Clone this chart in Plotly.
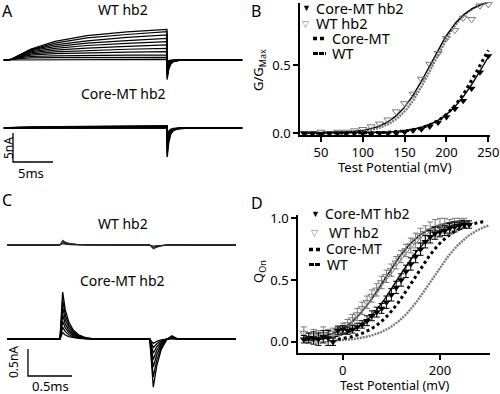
import numpy as np
import plotly.graph_objects as go

# ---------------- DATA ----------------
A_T_ON = [0, 0.5, 1.5, 3, 6, 10, 15, 20]
A_WT_ON = [
    [0, 0.10, 0.80, 1.90, 3.20, 4.20, 4.85, 5.29],
    [0, 0.10, 0.80, 1.80, 2.90, 3.80, 4.40, 4.88],
    [0, 0.10, 0.75, 1.70, 2.60, 3.30, 3.90, 4.31],
    [0, 0.10, 0.70, 1.60, 2.30, 2.90, 3.35, 3.74],
    [0, 0.10, 0.65, 1.40, 2.00, 2.50, 2.85, 3.16],
    [0, 0.10, 0.60, 1.25, 1.70, 2.05, 2.35, 2.59],
    [0, 0.10, 0.55, 1.05, 1.40, 1.65, 1.85, 2.01],
    [0, 0.10, 0.50, 0.85, 1.10, 1.25, 1.35, 1.44],
    [0, 0.10, 0.40, 0.60, 0.72, 0.80, 0.84, 0.86],
    [0, 0.05, 0.25, 0.35, 0.40, 0.43, 0.45, 0.46],
    [0, 0.03, 0.08, 0.10, 0.11, 0.12, 0.12, 0.12],
]
A_WT_TAIL_PEAK = [-3.4, -3.1, -2.8, -2.4, -2.0, -1.7, -1.3, -0.9, -0.6, -0.3, -0.1]
A_CORE_ON = [
    [0, 0.08, 0.12, 0.15, 0.20, 0.25, 0.30, 0.38],
    [0, 0.06, 0.10, 0.12, 0.15, 0.19, 0.23, 0.28],
    [0, 0.05, 0.08, 0.09, 0.11, 0.14, 0.16, 0.19],
    [0, 0.04, 0.06, 0.07, 0.08, 0.09, 0.10, 0.11],
    [0, 0.02, 0.03, 0.04, 0.04, 0.05, 0.05, 0.06],
    [0, 0.01, 0.01, 0.02, 0.02, 0.02, 0.02, 0.02],
]
A_CORE_TAIL_PEAK = [-5.0, -4.4, -3.6, -2.8, -2.0, -1.2]
A_T_TAIL = [20.02, 20.2, 20.45, 20.8, 21.5, 23.0, 29.4]
A_TAIL_SHAPE = [1.0, 0.5, 0.22, 0.08, 0.02, 0.0, 0.0]
A_T_START = -0.4

# Panel B: G/Gmax vs test potential
B_V = [30, 40, 50, 60, 70, 80, 90, 100, 110, 120, 130, 140, 150, 160, 170, 180,
       190, 200, 210, 220, 230, 240, 250]
B_CORE_HB2 = [0.0, 0.0, -0.005, 0.0, 0.0, 0.0, 0.0, 0.0, -0.005, 0.0, 0.0, 0.0,
              0.01, 0.02, 0.03, 0.05, 0.08, 0.12, 0.18, 0.24, 0.33, 0.45, 0.57]
B_WT_HB2 = [0.0, 0.0, 0.01, 0.0, 0.01, 0.01, 0.02, 0.03, 0.05, 0.07, 0.10, 0.16,
            0.22, 0.29, 0.40, 0.51, 0.59, 0.70, 0.76, 0.85, 0.84, 0.94, 0.95]
# Boltzmann fits: (V1/2 mV, slope mV, Vmin, Vmax)
B_FIT_CORE_HB2 = (244, 24, 30, 250)
B_FIT_WT_HB2 = (180, 21, 30, 250)
B_FIT_CORE = (240, 22, 30, 250)
B_FIT_WT = (183, 20, 30, 250)

# Panel C: gating currents (nA), times in ms relative to pulse onset
C_T_ON = [0, 0.03, 0.06, 0.1, 0.15, 0.21, 0.29, 0.4]
C_ON_SHAPE = [0, 1.0, 0.62, 0.36, 0.19, 0.09, 0.03, 0.0]
C_T_OFF = [1.02, 1.06, 1.1, 1.15, 1.21, 1.27, 1.34, 1.45]
C_OFF_SHAPE = [0, 1.0, 0.55, 0.22, 0.02, -0.07, 0.0, 0.0]
C_T_START, C_T_END = -0.6, 2.0
C_CORE_ON_PEAK = [0.87, 0.72, 0.58, 0.45, 0.33, 0.22, 0.12]
C_CORE_OFF_PEAK = [-0.89, -0.70, -0.52, -0.38, -0.26, -0.16, -0.08]
C_WT_ON_PEAK = [0.09, 0.07, 0.05, 0.035, 0.02]
C_WT_OFF_PEAK = [-0.075, -0.06, -0.045, -0.03, -0.02]

# Panel D: Q/Qmax vs test potential
D_V_WT = list(range(-80, 251, 10))
D_WT_HB2 = [0.07, 0.03, 0.05, 0.04, 0.06, 0.05, 0.07, 0.09, 0.11, 0.14, 0.18, 0.22,
            0.27, 0.32, 0.37, 0.42, 0.48, 0.53, 0.58, 0.64, 0.69, 0.74, 0.78, 0.82,
            0.86, 0.88, 0.90, 0.92, 0.93, 0.94, 0.93, 0.95, 0.96, 0.96]
D_WT_ERR = [0.05, 0.04, 0.05, 0.05, 0.06, 0.05, 0.04, 0.04, 0.04, 0.04, 0.04, 0.05,
            0.05, 0.05, 0.05, 0.05, 0.05, 0.05, 0.05, 0.05, 0.05, 0.05, 0.06, 0.06,
            0.06, 0.06, 0.07, 0.07, 0.07, 0.06, 0.06, 0.05, 0.04, 0.04]
D_V_CORE = list(range(-80, 261, 10))
D_CORE_HB2 = [0.02, 0.03, 0.03, 0.02, 0.04, 0.03, 0.0, 0.09, 0.10, 0.09, 0.10, 0.12,
              0.14, 0.17, 0.21, 0.24, 0.27, 0.32, 0.38, 0.44, 0.50, 0.57, 0.63, 0.69,
              0.75, 0.81, 0.85, 0.88, 0.89, 0.90, 0.92, 0.93, 0.94, 0.95, 0.95]
D_CORE_ERR = [0.03, 0.04, 0.05, 0.05, 0.05, 0.06, 0.03, 0.03, 0.03, 0.03, 0.03, 0.03,
              0.03, 0.04, 0.04, 0.04, 0.04, 0.05, 0.05, 0.05, 0.05, 0.05, 0.05, 0.05,
              0.05, 0.05, 0.05, 0.05, 0.04, 0.04, 0.04, 0.04, 0.03, 0.03, 0.03]
D_FIT_WT_HB2 = (85, 40, -80, 250)
D_FIT_CORE_HB2 = (112, 40, -80, 260)
D_FIT_CORE = (145, 40, -10, 295)
D_FIT_WT = (183, 42, -20, 300)

# ---------------- LAYOUT CONSTANTS ----------------
W, H = 500, 394
def PX(x): return x / W
def PY(y): return 1 - y / H

A_CORE_BASE = -11.72     # vertical offset of Core-MT trace family (nA)
C_CORE_BASE = -1.741     # vertical offset of Core-MT gating family (nA)
A_BAR = dict(x0=0.75, y0=-17.59, dx=5, dy=5)
C_BAR = dict(x0=-0.364, y0=-2.426, dx=0.5, dy=0.5)

BLACK = "#000000"
GREY = "#7a7a7a"
FONT = "Noto Sans"

fig = go.Figure()

def boltz(p, n=200):
    vh, k, v0, v1 = p
    v = np.linspace(v0, v1, n)
    return v, 1.0 / (1.0 + np.exp((vh - v) / k))

# ---- Panel A traces ----
def a_trace(on, peak, base):
    x = [A_T_START] + A_T_ON + A_T_TAIL
    y = [0] + on + [peak * s for s in A_TAIL_SHAPE]
    return x, [v + base for v in y]

for on, pk in zip(A_WT_ON, A_WT_TAIL_PEAK):
    x, y = a_trace(on, pk, 0)
    fig.add_trace(go.Scatter(x=x, y=y, mode="lines", line=dict(color=BLACK, width=1.2),
                             xaxis="x", yaxis="y", showlegend=False, hoverinfo="skip"))
for on, pk in zip(A_CORE_ON, A_CORE_TAIL_PEAK):
    x, y = a_trace(on, pk, A_CORE_BASE)
    fig.add_trace(go.Scatter(x=x, y=y, mode="lines", line=dict(color=BLACK, width=1.5),
                             xaxis="x", yaxis="y", showlegend=False, hoverinfo="skip"))
fig.add_trace(go.Scatter(
    x=[A_BAR["x0"], A_BAR["x0"], A_BAR["x0"] + A_BAR["dx"]],
    y=[A_BAR["y0"] + A_BAR["dy"], A_BAR["y0"], A_BAR["y0"]],
    mode="lines", line=dict(color=BLACK, width=1.3), xaxis="x", yaxis="y",
    showlegend=False, hoverinfo="skip"))

# ---- Panel C traces ----
def c_trace(on_pk, off_pk, base):
    x = [C_T_START] + C_T_ON + C_T_OFF + [C_T_END]
    y = [0] + [on_pk * s for s in C_ON_SHAPE] + [off_pk * s for s in C_OFF_SHAPE] + [0]
    return x, [v + base for v in y]

for a, b in zip(C_WT_ON_PEAK, C_WT_OFF_PEAK):
    x, y = c_trace(a, b, 0)
    fig.add_trace(go.Scatter(x=x, y=y, mode="lines", line=dict(color="#222", width=1.0),
                             xaxis="x3", yaxis="y3", showlegend=False, hoverinfo="skip"))
for a, b in zip(C_CORE_ON_PEAK, C_CORE_OFF_PEAK):
    x, y = c_trace(a, b, C_CORE_BASE)
    fig.add_trace(go.Scatter(x=x, y=y, mode="lines", line=dict(color=BLACK, width=1.3),
                             xaxis="x3", yaxis="y3", showlegend=False, hoverinfo="skip"))
fig.add_trace(go.Scatter(
    x=[C_BAR["x0"], C_BAR["x0"], C_BAR["x0"] + C_BAR["dx"]],
    y=[C_BAR["y0"] + C_BAR["dy"], C_BAR["y0"], C_BAR["y0"]],
    mode="lines", line=dict(color=BLACK, width=1.3), xaxis="x3", yaxis="y3",
    showlegend=False, hoverinfo="skip"))

# ---- Panel B ----
WT_LINE = dict(color=GREY, width=2.4, dash="2px,1px")
CORE_LINE = dict(color=BLACK, width=3, dash="3px,3px")
for p, ln in [(B_FIT_WT, WT_LINE), (B_FIT_CORE, CORE_LINE),
              (B_FIT_WT_HB2, dict(color=BLACK, width=1.4)),
              (B_FIT_CORE_HB2, dict(color=BLACK, width=1.4))]:
    v, g = boltz(p)
    fig.add_trace(go.Scatter(x=v, y=g, mode="lines", line=ln, xaxis="x2", yaxis="y2",
                             showlegend=False, hoverinfo="skip"))
fig.add_trace(go.Scatter(x=B_V, y=B_WT_HB2, mode="markers", xaxis="x2", yaxis="y2",
                         marker=dict(symbol="triangle-down-open", size=7, color=GREY,
                                     line=dict(width=1, color=GREY)),
                         cliponaxis=False, showlegend=False))
fig.add_trace(go.Scatter(x=B_V, y=B_CORE_HB2, mode="markers", xaxis="x2", yaxis="y2",
                         marker=dict(symbol="triangle-down", size=7, color=BLACK),
                         cliponaxis=False, showlegend=False))

# ---- Panel D ----
for p, ln in [(D_FIT_WT, WT_LINE), (D_FIT_CORE, CORE_LINE),
              (D_FIT_WT_HB2, dict(color=BLACK, width=1.4)),
              (D_FIT_CORE_HB2, dict(color=BLACK, width=1.4))]:
    v, g = boltz(p)
    fig.add_trace(go.Scatter(x=v, y=g, mode="lines", line=ln, xaxis="x4", yaxis="y4",
                             showlegend=False, hoverinfo="skip"))
fig.add_trace(go.Scatter(x=D_V_WT, y=D_WT_HB2, mode="markers", xaxis="x4", yaxis="y4",
                         error_y=dict(type="data", array=D_WT_ERR, color=GREY,
                                      thickness=1, width=3),
                         marker=dict(symbol="triangle-down-open", size=7, color=GREY,
                                     line=dict(width=1, color=GREY)),
                         cliponaxis=False, showlegend=False))
fig.add_trace(go.Scatter(x=D_V_CORE, y=D_CORE_HB2, mode="markers", xaxis="x4", yaxis="y4",
                         error_y=dict(type="data", array=D_CORE_ERR, color=BLACK,
                                      thickness=1, width=3),
                         marker=dict(symbol="triangle-down", size=7, color=BLACK),
                         cliponaxis=False, showlegend=False))

hidden = dict(visible=False, showgrid=False, zeroline=False, automargin=False)
axis_common = dict(showline=True, linecolor=BLACK, linewidth=1.5, ticks="outside",
                   ticklen=5, tickwidth=1.5, tickcolor=BLACK, showgrid=False,
                   zeroline=False, tickfont=dict(family=FONT, size=13, color=BLACK),
                   mirror=False, automargin=False)

fig.update_layout(
    width=W, height=H, margin=dict(l=0, r=0, t=0, b=0),
    paper_bgcolor="white", plot_bgcolor="white", showlegend=False,
    font=dict(family=FONT, color=BLACK),
    xaxis=dict(domain=[0, PX(250)], range=[-0.875, 30.375], **hidden),
    yaxis=dict(domain=[PY(190), 1], range=[-22.414, 10.345], **hidden),
    xaxis3=dict(domain=[0, PX(250)], range=[-0.682, 2.159], anchor="y3", **hidden),
    yaxis3=dict(domain=[0, PY(195)], range=[-2.759, 0.926], anchor="x3", **hidden),
    xaxis2=dict(domain=[PX(300), PX(490)], range=[25, 252], anchor="y2",
                tickvals=[50, 100, 150, 200, 250], **axis_common),
    yaxis2=dict(domain=[PY(135), PY(3)], range=[-0.0125, 0.96], anchor="x2",
                tickvals=[0, 0.5], tickformat=".1f", **axis_common),
    xaxis4=dict(domain=[PX(298), PX(490)], range=[-92, 303], anchor="y4",
                tickvals=[0, 200], **axis_common),
    yaxis4=dict(domain=[PY(353), PY(215)], range=[-0.0916, 1.027], anchor="x4",
                tickvals=[0, 0.5, 1.0], tickformat=".1f", **axis_common),
)

ann = []
def text(x, y, s, size=13, anchor="center", angle=0, color=BLACK):
    ann.append(dict(x=PX(x), y=PY(y), xref="paper", yref="paper", text=s,
                    showarrow=False, xanchor=anchor, yanchor="middle", textangle=angle,
                    font=dict(family=FONT, size=size, color=color)))

# panel letters
text(7, 11, "A", 16); text(256, 11, "B", 16); text(7, 200, "C", 16); text(257, 203, "D", 16)
# trace titles
text(123, 9, "WT hb2", 14); text(123, 93, "Core-MT hb2", 14)
text(123, 223, "WT hb2", 14); text(122, 280, "Core-MT hb2", 14)
# scale bar labels
text(8, 148, "5nA", 12, angle=-90); text(31, 173, "5ms", 13)
text(13, 362, "0.5nA", 12, angle=-90); text(50, 386, "0.5ms", 13)
# axis titles
text(395, 167, "Test Potential (mV)", 13)
text(394, 385, "Test Potential (mV)", 12.5)
text(259, 70, "G/G<sub>Max</sub>", 13, angle=-90)
text(259, 272, "Q<sub>On</sub>", 13, angle=-90)

# legend B
text(300, 8, "▼", 9, anchor="left"); text(314, 8, "Core-MT hb2", 14.5, anchor="left")
text(300, 23, "▽", 9, anchor="left", color=GREY); text(314, 23, "WT hb2", 14.5, anchor="left")
text(330, 38, "Core-MT", 14.5, anchor="left"); text(330, 53, "WT", 14.5, anchor="left")
# legend D
text(309, 214, "▼", 9, anchor="left"); text(323, 214, "Core-MT hb2", 14, anchor="left")
text(309, 232, "▽", 9, anchor="left", color=GREY); text(327, 232, "WT hb2", 14, anchor="left")
text(324, 249, "Core-MT", 14, anchor="left"); text(325, 264, "WT", 14, anchor="left")
fig.update_layout(annotations=ann)

shapes = []
def sample(x0, x1, y, dash, width, color):
    shapes.append(dict(type="line", xref="paper", yref="paper", x0=PX(x0), x1=PX(x1),
                       y0=PY(y), y1=PY(y), line=dict(color=color, width=width, dash=dash)))
sample(313, 326, 38.5, "4px,3px", 3.5, BLACK)
sample(313, 326, 53.5, "5px,1px", 3, BLACK)
sample(309, 321, 249.5, "4px,3px", 3.5, BLACK)
sample(309, 321, 264.5, "5px,1px", 3, BLACK)
fig.update_layout(shapes=shapes)

fig.write_html("out.html", config={"displayModeBar": False},
               post_script="document.body.style.margin='0';document.body.style.padding='0';")
